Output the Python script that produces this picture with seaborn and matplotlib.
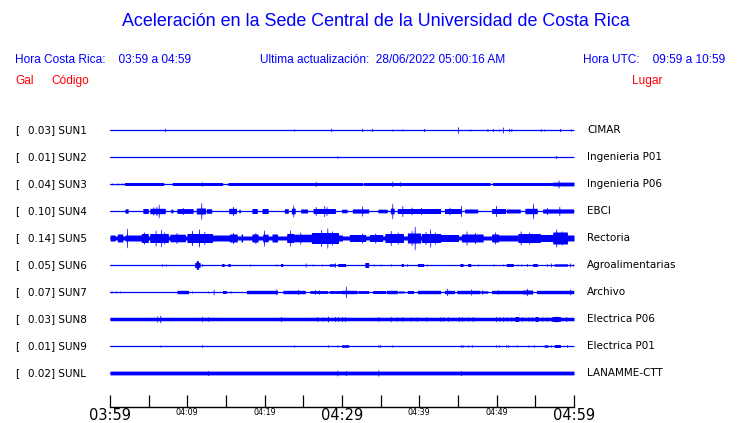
import numpy as np
import pandas as pd
import matplotlib
matplotlib.use("Agg")
import matplotlib.pyplot as plt
import seaborn as sns
from matplotlib.transforms import blended_transform_factory

# ---------------- data ----------------
codes = ["SUN1", "SUN2", "SUN3", "SUN4", "SUN5", "SUN6", "SUN7", "SUN8", "SUN9", "SUNL"]
gal = ["0.03", "0.01", "0.04", "0.10", "0.14", "0.05", "0.07", "0.03", "0.01", "0.02"]
places = ["CIMAR", "Ingenieria P01", "Ingenieria P06", "EBCI", "Rectoria",
          "Agroalimentarias", "Archivo", "Electrica P06", "Electrica P01", "LANAMME-CTT"]

# background half-amplitude of each trace (pixels)
baseline = [0.5, 0.5, 0.5, 0.5, 2.0, 0.5, 0.5, 1.75, 0.5, 1.9]

# events: (start minute, end minute, half-amplitude px); minutes after 03:59
ev_sun1 = [(7.1, 7.1, 1.7), (23.8, 23.8, 1.0), (28.6, 28.6, 1.7), (32.6, 32.6, 1.5),
           (33.9, 33.9, 1.5), (36.5, 36.5, 1.0), (37.8, 37.8, 1.0), (40.6, 40.6, 1.5),
           (45.0, 45.0, 3.3), (46.6, 46.6, 1.0), (48.8, 48.8, 1.5), (49.5, 49.5, 1.5),
           (50.3, 50.3, 1.0), (50.8, 50.8, 3.0), (51.6, 51.6, 1.5), (51.9, 51.9, 1.5),
           (55.7, 55.7, 1.5), (56.1, 56.1, 1.0), (58.2, 58.2, 1.5), (59.6, 59.6, 1.0)]
ev_sun2 = [(29.4, 29.4, 1.2), (57.7, 57.7, 1.5)]
ev_sun3 = [(0.3, 0.3, 1.0), (1.0, 1.0, 1.0), (1.5, 1.5, 1.0),
           (1.9, 6.9, 1.5), (8.1, 14.5, 1.5), (15.3, 32.6, 1.5), (32.8, 49.1, 1.5),
           (49.5, 60.0, 1.5), (57.3, 60.0, 1.9),
           (11.9, 11.9, 2.2), (26.6, 26.6, 2.5), (36.5, 36.5, 2.7), (37.5, 37.5, 2.2),
           (58.0, 58.0, 4.0)]
ev_sun4 = [(2.0, 2.3, 2.2), (4.3, 4.9, 2.5), (5.2, 7.1, 2.7), (6.3, 6.3, 6.7), (5.6, 5.6, 4.0),
           (6.0, 6.0, 4.5), (7.9, 8.1, 1.8), (8.7, 10.7, 2.4), (9.4, 9.4, 3.5), (11.2, 12.3, 3.0),
           (11.8, 11.8, 8.3), (12.5, 13.1, 2.3), (15.4, 16.3, 2.7), (15.9, 15.9, 4.5),
           (16.7, 16.8, 1.8), (18.4, 19.0, 2.5), (19.7, 20.4, 2.5), (22.6, 23.0, 2.3),
           (23.5, 23.9, 2.8), (23.7, 23.7, 6.0), (24.7, 25.5, 2.0), (26.3, 29.1, 2.5),
           (26.6, 26.6, 4.5), (27.7, 27.7, 5.5), (28.0, 28.0, 4.5), (30.0, 30.6, 1.8),
           (31.4, 33.4, 2.1), (32.6, 32.6, 5.0), (34.7, 35.8, 1.8), (36.3, 36.7, 2.8),
           (36.5, 36.5, 7.7), (37.2, 42.7, 2.5), (37.8, 37.8, 5.5), (39.0, 39.0, 3.8),
           (40.2, 40.2, 3.5), (43.3, 45.3, 2.5), (43.9, 43.9, 3.8), (45.4, 45.4, 5.5),
           (45.9, 47.5, 2.0), (49.4, 51.1, 2.5), (49.9, 49.9, 5.5), (51.3, 53.0, 2.0),
           (53.7, 55.2, 2.7), (54.7, 54.7, 7.7), (56.0, 59.9, 2.1), (56.5, 56.5, 3.5),
           (58.1, 58.1, 4.7)]
ev_sun5 = [(0.0, 0.6, 3.0), (1.0, 1.6, 4.0), (2.2, 2.2, 9.7), (2.0, 4.0, 3.0), (4.1, 4.9, 4.5),
           (4.4, 4.4, 6.0), (5.2, 7.5, 4.5), (5.9, 5.9, 8.0), (6.6, 6.6, 8.5), (7.0, 7.0, 6.0),
           (7.8, 9.7, 3.8), (8.6, 8.6, 5.5), (10.0, 13.2, 4.5), (10.6, 10.6, 7.5),
           (11.5, 11.5, 9.0), (12.2, 12.2, 6.5), (13.2, 15.5, 3.0), (15.5, 16.4, 4.0),
           (15.9, 15.9, 5.5), (17.0, 17.1, 4.0), (18.4, 19.1, 4.0), (18.8, 18.8, 5.5),
           (19.8, 20.4, 3.8), (19.9, 19.9, 8.0), (21.0, 21.6, 4.0), (22.9, 23.7, 4.5),
           (23.3, 23.3, 8.0), (23.7, 26.1, 3.8), (24.6, 24.6, 6.0), (26.1, 29.5, 5.5),
           (27.3, 27.3, 8.5), (28.1, 28.1, 10.0), (28.7, 28.7, 7.0), (29.5, 30.0, 3.0),
           (31.0, 33.0, 3.5), (32.6, 32.6, 5.0), (33.6, 35.2, 3.5), (34.3, 34.3, 5.0),
           (35.6, 37.9, 4.5), (36.3, 36.3, 7.5), (37.2, 37.2, 6.0), (38.5, 40.1, 5.0),
           (39.4, 39.4, 11.7), (39.0, 39.0, 7.5), (40.3, 42.7, 4.5), (41.4, 41.4, 9.0),
           (40.8, 40.8, 6.5), (42.0, 42.0, 6.0), (42.7, 45.0, 3.5), (45.5, 48.2, 4.0),
           (46.1, 46.1, 7.0), (47.2, 47.2, 5.5), (49.4, 50.2, 4.0), (49.8, 49.8, 6.0),
           (50.2, 52.8, 3.0), (52.8, 55.6, 4.5), (53.1, 53.1, 7.0), (54.2, 54.2, 6.0),
           (55.6, 57.3, 3.5), (57.3, 59.1, 6.0), (57.7, 57.7, 9.0), (58.4, 58.4, 7.0),
           (59.1, 60.0, 3.0)]
ev_sun6 = [(6.7, 6.7, 1.3), (7.2, 7.2, 1.0), (11.0, 11.6, 2.5), (11.2, 11.4, 4.3),
           (11.9, 11.9, 1.3), (14.5, 14.7, 1.5), (15.3, 15.5, 1.5), (18.1, 18.1, 1.0),
           (21.5, 21.5, 1.0), (22.1, 22.3, 1.5), (25.3, 25.3, 2.0), (26.2, 26.2, 1.0),
           (27.4, 27.4, 1.0), (28.4, 29.1, 1.2), (29.1, 29.1, 2.2), (29.5, 30.4, 1.5),
           (33.0, 33.4, 2.5), (34.1, 34.1, 1.0), (35.0, 35.0, 1.0), (36.3, 36.3, 1.2),
           (37.7, 37.9, 1.5), (38.4, 38.4, 1.2), (39.8, 40.5, 1.5), (41.0, 41.0, 1.0),
           (45.3, 45.6, 1.5), (46.3, 46.6, 1.5), (47.6, 47.6, 1.0), (49.6, 49.6, 1.0),
           (50.8, 50.8, 1.0), (51.3, 52.1, 1.5), (52.7, 52.7, 1.0), (53.2, 53.2, 1.0),
           (53.9, 53.9, 1.5), (54.7, 55.2, 1.5), (56.5, 56.5, 1.2), (57.0, 57.0, 2.0),
           (57.5, 59.1, 1.2), (59.5, 59.5, 2.0), (59.9, 59.9, 1.2)]
ev_sun7 = [(0.2, 0.2, 1.0), (0.8, 0.8, 1.0), (1.3, 1.3, 1.0), (8.7, 10.1, 1.7),
           (10.6, 10.6, 1.2), (12.7, 12.7, 1.0), (13.4, 13.4, 2.8), (14.6, 15.0, 1.5),
           (15.6, 15.6, 1.2), (17.7, 21.6, 1.7), (21.5, 21.5, 2.8), (22.4, 25.2, 1.7),
           (24.3, 24.3, 2.5), (25.9, 28.1, 1.4), (26.5, 26.5, 2.2), (27.0, 27.0, 2.2),
           (28.4, 30.0, 1.4), (30.0, 31.9, 1.7), (30.5, 30.5, 5.8), (32.1, 33.4, 1.4),
           (34.0, 35.6, 1.5), (35.8, 37.1, 1.7), (37.3, 38.0, 1.0), (38.5, 39.2, 1.5),
           (39.8, 42.7, 1.7), (43.3, 44.5, 1.7), (43.6, 43.6, 3.5), (44.9, 47.8, 1.7),
           (46.7, 46.7, 3.0), (48.0, 48.8, 1.2), (48.1, 48.1, 2.2), (49.4, 53.3, 1.7),
           (50.2, 50.2, 2.2), (53.4, 54.6, 2.0), (53.9, 53.9, 3.7), (55.2, 59.9, 1.7),
           (59.5, 59.5, 2.8)]
ev_sun8 = [(6.1, 6.1, 3.0), (6.5, 6.5, 3.7), (11.9, 11.9, 2.7), (12.7, 12.7, 2.3),
           (22.1, 22.1, 2.5), (26.8, 26.8, 2.5), (27.5, 27.5, 2.3), (28.2, 28.2, 3.0),
           (29.1, 29.1, 2.5), (29.5, 29.5, 2.5), (30.0, 30.0, 2.5), (30.4, 30.4, 2.5),
           (34.7, 34.7, 2.5), (36.3, 36.3, 2.7), (37.1, 37.1, 2.3), (37.8, 37.8, 2.5),
           (38.9, 38.9, 2.3), (39.7, 39.7, 2.3), (40.9, 40.9, 2.3), (42.7, 42.7, 2.3),
           (43.1, 43.1, 2.3), (43.7, 43.7, 2.3), (45.1, 45.1, 2.5), (45.5, 45.5, 2.3),
           (46.3, 46.3, 2.3), (46.9, 46.9, 2.5), (49.9, 49.9, 2.5), (50.3, 50.3, 2.3),
           (50.8, 50.8, 2.3), (51.3, 51.3, 2.3), (51.9, 51.9, 2.3), (52.4, 52.8, 2.5),
           (53.3, 53.3, 2.5), (54.1, 54.1, 2.3), (54.6, 54.6, 2.3), (55.0, 55.3, 2.5),
           (55.9, 55.9, 2.3), (56.5, 56.5, 2.3), (57.2, 58.2, 2.5), (57.7, 57.7, 3.0),
           (59.0, 59.0, 2.5)]
ev_sun9 = [(6.5, 6.5, 1.0), (11.9, 11.9, 1.3), (23.8, 23.8, 1.0), (28.2, 28.2, 1.2),
           (29.4, 29.4, 1.0), (30.0, 30.8, 1.3), (34.7, 34.7, 1.2), (34.9, 34.9, 1.2),
           (36.5, 36.5, 1.2), (45.4, 45.4, 1.2), (45.6, 45.6, 1.2), (46.3, 46.3, 1.0),
           (46.8, 46.8, 1.2), (49.9, 49.9, 1.2), (50.3, 50.3, 1.2), (51.2, 51.2, 1.2),
           (51.5, 51.5, 1.2), (52.6, 52.6, 1.0), (54.1, 54.1, 1.2), (54.8, 54.8, 1.2),
           (56.2, 56.6, 1.2), (57.0, 57.0, 1.2), (57.5, 58.2, 1.5), (59.1, 59.1, 1.2)]
ev_sunl = [(12.7, 12.7, 2.5), (29.4, 29.4, 2.8), (30.5, 30.5, 2.5), (34.7, 34.7, 3.0),
           (45.4, 45.4, 2.5)]
events = [ev_sun1, ev_sun2, ev_sun3, ev_sun4, ev_sun5, ev_sun6, ev_sun7, ev_sun8, ev_sun9, ev_sunl]

tick_minutes = list(range(0, 61, 5))
tick_labels = ["03:59", "", "04:09", "", "04:19", "", "04:29", "", "04:39", "", "04:49", "", "04:59"]
major_labels = ["03:59", "04:29", "04:59"]

title = "Aceleración en la Sede Central de la Universidad de Costa Rica"
hdr_left = "Hora Costa Rica:    03:59 a 04:59"
hdr_mid = "Ultima actualización:  28/06/2022 05:00:16 AM"
hdr_right = "Hora UTC:    09:59 a 10:59"

# ---------------- figure ----------------
sns.set_theme(style="white")
plt.rcParams["font.family"] = ["DejaVu Sans"]
W, H = 740, 423
fig = plt.figure(figsize=(W / 100, H / 100), dpi=100)
fig.patch.set_facecolor("white")

x0, x1 = 110, 574
y_axis, y_top, y_first, step = 407, 115, 130, 27
ax = fig.add_axes([x0 / W, (H - y_axis) / H, (x1 - x0) / W, (y_axis - y_top) / H])
ax.set_facecolor("white")
BLUE = "#0000ff"
RED = "#ff0000"

t = np.linspace(0, 60, 3001)
long = []
for i, (base, evs) in enumerate(zip(baseline, events)):
    env = np.full_like(t, base)
    for (a, b, amp) in evs:
        lo, hi = min(a, b) - 0.055, max(a, b) + 0.055
        m = (t >= lo) & (t <= hi)
        env[m] = np.maximum(env[m], amp)
    env = env / step
    ax.fill_between(t, i - env, i + env, color=BLUE, lw=0, antialiased=False)
    long.append(pd.DataFrame({"t": [0, 60], "y": [i, i], "code": codes[i]}))

df = pd.concat(long)
sns.lineplot(data=df, x="t", y="y", units="code", estimator=None, color=BLUE,
             lw=0.9, ax=ax, legend=False)

ax.set_xlim(0, 60)
ax.set_ylim((y_axis - y_first) / step, (y_top - y_first) / step)
for s in ["top", "left", "right"]:
    ax.spines[s].set_visible(False)
ax.spines["bottom"].set_color("black")
ax.spines["bottom"].set_linewidth(1.0)
ax.set_yticks([])
ax.set_xticks(tick_minutes)
ax.set_xticklabels(tick_labels)
ax.tick_params(axis="x", direction="in", length=8.8, width=0.9, color="black", pad=1.0,
               bottom=True)
for lab in ax.get_xticklabels():
    if lab.get_text() in major_labels:
        lab.set_fontsize(10.5)
    else:
        lab.set_fontsize(5.8)
    lab.set_color("black")
ax.set_xlabel("")
ax.set_ylabel("")

# row labels
tr = blended_transform_factory(fig.transFigure, ax.transData)
for i in range(len(codes)):
    ax.text(15 / W, i, "[", transform=tr, ha="left", va="center", fontsize=7.5, color="black")
    ax.text(28 / W, i, f"{gal[i]}] {codes[i]}", transform=tr, ha="left", va="center",
            fontsize=7.5, color="black")
    ax.text(587 / W, i, places[i], transform=tr, ha="left", va="center",
            fontsize=7.5, color="black")

# header texts
hf = ["Liberation Sans", "DejaVu Sans"]
fig.text(376 / W, 1 - 22 / H, title, ha="center", va="center", fontsize=12.9,
         color=BLUE, family=hf)
fig.text(15 / W, 1 - 60 / H, hdr_left, ha="left", va="center", fontsize=8.6, color=BLUE, family=hf)
fig.text(260 / W, 1 - 60 / H, hdr_mid, ha="left", va="center", fontsize=8.6, color=BLUE, family=hf)
fig.text(725 / W, 1 - 60 / H, hdr_right, ha="right", va="center", fontsize=8.6, color=BLUE, family=hf)
fig.text(15 / W, 1 - 81 / H, "Gal", ha="left", va="center", fontsize=8.6, color=RED, family=hf)
fig.text(51 / W, 1 - 81 / H, "Código", ha="left", va="center", fontsize=8.6, color=RED, family=hf)
fig.text(662 / W, 1 - 81 / H, "Lugar", ha="right", va="center", fontsize=8.6, color=RED, family=hf)

fig.savefig("out.png", dpi=100, facecolor="white")
